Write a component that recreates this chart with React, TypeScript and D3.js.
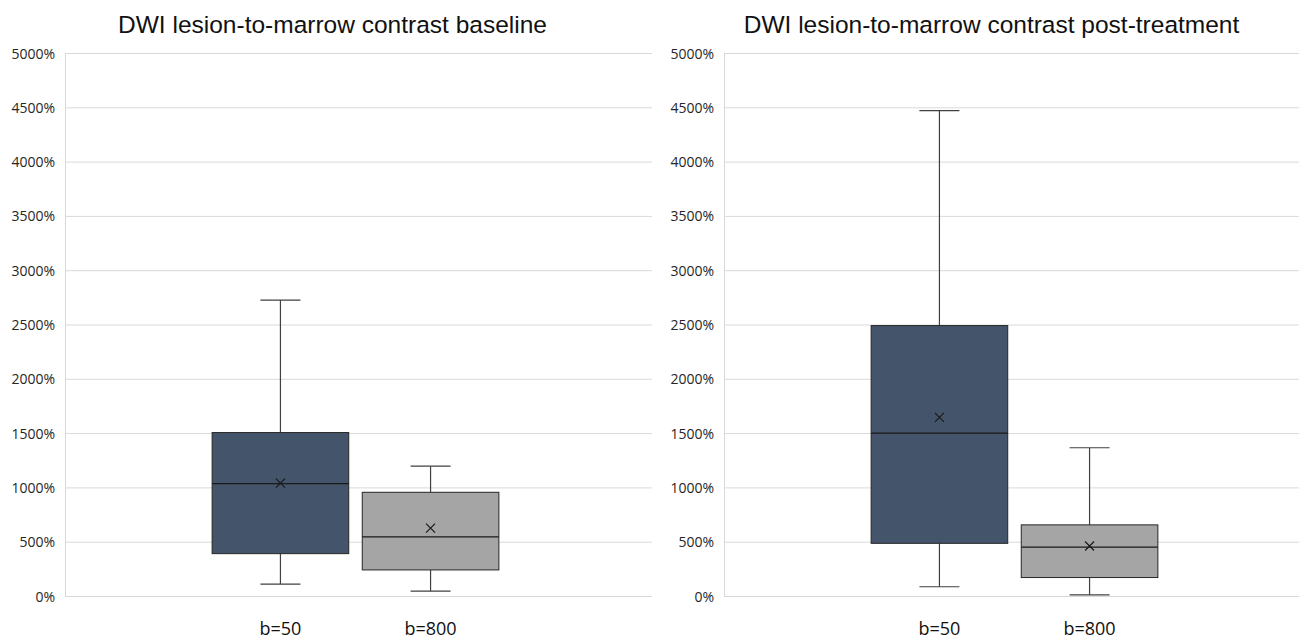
import { useEffect, useRef } from 'react';
import * as d3 from 'd3';

// series shown in each panel
const seriesNames = ['b=50', 'b=800'];
const seriesColors = ['#44546a', '#a5a5a5'];

// box stats, in percent
const baselineStats = [
    { min: 110, q1: 390, median: 1035, q3: 1505, max: 2725, mean: 1040 },
    { min: 45, q1: 240, median: 545, q3: 955, max: 1195, mean: 625 },
];
const postStats = [
    { min: 85, q1: 485, median: 1500, q3: 2490, max: 4470, mean: 1645 },
    { min: 10, q1: 170, median: 450, q3: 655, max: 1365, mean: 460 },
];

const panelTitles = [
    'DWI lesion-to-marrow contrast baseline',
    'DWI lesion-to-marrow contrast post-treatment',
];
const yTicks = [0, 500, 1000, 1500, 2000, 2500, 3000, 3500, 4000, 4500, 5000];

const App = () => {
    const svgRef = useRef<SVGSVGElement>(null);

    useEffect(() => {
        const width = 1299;
        const height = 641;
        const plotW = 587;
        const plotTop = 53;
        const plotBottom = 596;
        const panelLeft = [65, 724];

        const svg = d3.select(svgRef.current)
            .attr('width', width)
            .attr('height', height);
        svg.selectAll('*').remove();

        const yScale = d3.scaleLinear()
            .domain([0, 5000])
            .range([plotBottom, plotTop]);

        // one category per panel, two series side by side in the middle
        const xScale = d3.scaleBand()
            .domain(seriesNames)
            .range([0, plotW])
            .paddingInner(0.09)
            .paddingOuter(1)
            .align(0.49);

        const panels = [baselineStats, postStats];

        panels.forEach((stats, pi) => {
            const g = svg.append('g')
                .attr('transform', `translate(${panelLeft[pi]}, 0)`);

            // gridlines
            g.selectAll('.grid')
                .data(yTicks)
                .enter()
                .append('line')
                .attr('x1', 0)
                .attr('x2', plotW)
                .attr('y1', d => yScale(d) + 0.5)
                .attr('y2', d => yScale(d) + 0.5)
                .style('stroke', '#d9d9d9')
                .style('stroke-width', 1);

            // vertical axis line
            g.append('line')
                .attr('x1', 0.5).attr('x2', 0.5)
                .attr('y1', yScale(5000)).attr('y2', yScale(0))
                .style('stroke', '#d9d9d9');

            // y tick labels
            g.selectAll('.ytick')
                .data(yTicks)
                .enter()
                .append('text')
                .text(d => `${d}%`)
                .attr('x', -10)
                .attr('y', d => yScale(d))
                .attr('dominant-baseline', 'central')
                .attr('text-anchor', 'end')
                .style('font-family', '"Open Sans", sans-serif')
                .style('font-size', '14px')
                .style('fill', '#262626');

            // title
            g.append('text')
                .text(panelTitles[pi])
                .attr('x', plotW / 2 - 26)
                .attr('y', 33)
                .attr('text-anchor', 'middle')
                .style('font-family', '"Liberation Sans", Arial, sans-serif')
                .style('font-size', '24.5px')
                .style('fill', '#111111');

            const bw = xScale.bandwidth();
            const capW = 40;

            stats.forEach((s, si) => {
                const x0 = xScale(seriesNames[si])!;
                const cx = x0 + bw / 2;
                const box = g.append('g');

                // whiskers
                box.append('line')
                    .attr('x1', cx).attr('x2', cx)
                    .attr('y1', yScale(s.max)).attr('y2', yScale(s.q3))
                    .style('stroke', '#404040').style('stroke-width', 1.2);
                box.append('line')
                    .attr('x1', cx).attr('x2', cx)
                    .attr('y1', yScale(s.q1)).attr('y2', yScale(s.min))
                    .style('stroke', '#404040').style('stroke-width', 1.2);
                [s.max, s.min].forEach(v => {
                    box.append('line')
                        .attr('x1', cx - capW / 2).attr('x2', cx + capW / 2)
                        .attr('y1', yScale(v)).attr('y2', yScale(v))
                        .style('stroke', '#404040').style('stroke-width', 1.2);
                });

                // box
                box.append('rect')
                    .attr('x', x0)
                    .attr('y', yScale(s.q3))
                    .attr('width', bw)
                    .attr('height', yScale(s.q1) - yScale(s.q3))
                    .style('fill', seriesColors[si])
                    .style('stroke', '#262626')
                    .style('stroke-width', 1);

                // median
                box.append('line')
                    .attr('x1', x0).attr('x2', x0 + bw)
                    .attr('y1', yScale(s.median)).attr('y2', yScale(s.median))
                    .style('stroke', '#1a1a1a').style('stroke-width', 1.3);

                // mean marker
                const m = 4.5;
                const my = yScale(s.mean);
                box.append('path')
                    .attr('d', `M${cx - m},${my - m}L${cx + m},${my + m}M${cx - m},${my + m}L${cx + m},${my - m}`)
                    .style('stroke', '#1a1a1a').style('stroke-width', 1.2)
                    .style('fill', 'none');

                // category label
                g.append('text')
                    .text(seriesNames[si])
                    .attr('x', cx)
                    .attr('y', 635)
                    .attr('text-anchor', 'middle')
                    .style('font-family', '"Open Sans", sans-serif')
                    .style('font-size', '18px')
                    .style('font-weight', 500)
                    .style('fill', '#111111');
            });
        });
    }, []);

    return (
        <svg
            ref={svgRef}
            style={{ position: 'absolute', left: 0, top: 0, display: 'block', background: '#ffffff' }}
        />
    );
};

export default App;
